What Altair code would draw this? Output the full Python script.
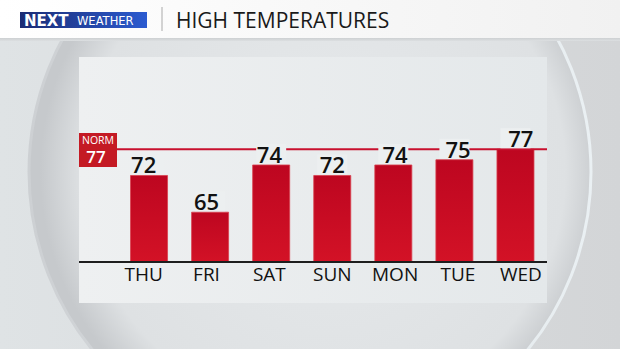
import altair as alt
import pandas as pd

# ---- data ----
days = ["THU", "FRI", "SAT", "SUN", "MON", "TUE", "WED"]
highs = [72, 65, 74, 72, 74, 75, 77]
norm = 77
title_text = "HIGH TEMPERATURES"

# ---- layout ----
Y_MIN, Y_MAX = 55.5, 94.4
Y_RANGE = [262, 58]
X_RANGE = [112.2, 552.3]
FONT = "Open Sans"

df = pd.DataFrame({"day": days, "high": highs})
one = pd.DataFrame({"a": [0]})


def grad(c0, c1, horizontal=False):
    g = {"gradient": "linear", "stops": [{"offset": 0, "color": c0}, {"offset": 1, "color": c1}]}
    if horizontal:
        g.update({"x1": 0, "x2": 1, "y1": 0, "y2": 0})
    else:
        g.update({"x1": 0, "x2": 0, "y1": 0, "y2": 1})
    return g


xs = alt.Scale(domain=days, range=X_RANGE, paddingInner=0.394, paddingOuter=0.3)
ys = alt.Scale(domain=[Y_MIN, Y_MAX], range=Y_RANGE, zero=False, nice=False)
X = alt.X("day:N", scale=xs, axis=None)
Y = alt.Y("high:Q", scale=ys, axis=None)


def yd(v):
    return alt.YDatum(v, scale=ys, axis=None)


def box(x0, x1, y0, y1, fill):
    return alt.Chart(one).mark_rect(fill=fill).encode(
        x=alt.value(x0), x2=alt.value(x1), y=alt.value(y0), y2=alt.value(y1))


bg = box(0, 620, 0, 349, grad("#dfe3e5", "#d3d5d7", True))
circle = alt.Chart(one).mark_point(
    shape="circle", filled=True, size=562 ** 2, opacity=1,
    fill={"gradient": "radial", "x1": 0.55, "y1": 0.5, "r1": 0, "x2": 0.52, "y2": 0.5, "r2": 0.5,
          "stops": [{"offset": 0, "color": "#e7eaec"}, {"offset": 0.86, "color": "#dee1e3"},
                    {"offset": 1, "color": "#c6c9cc"}]},
    stroke=grad("#cdd0d3", "#eaf0f3", True), strokeWidth=3,
).encode(x=alt.value(310), y=alt.value(172))
header = box(0, 620, 0, 38, grad("#ffffff", "#f1f1f1", True))
header_shadow = box(0, 620, 38, 41, grad("#cdd0d2", "#dcdfe1"))
logo = box(20, 147, 12, 28, grad("#1b2c74", "#2b5bd0", True))
logo_next = alt.Chart(one).mark_text(
    text="NEXT", font="DejaVu Sans", fontWeight="bold", fontSize=15, color="white",
    align="left", baseline="alphabetic").encode(x=alt.value(24), y=alt.value(26))
logo_weather = alt.Chart(one).mark_text(
    text="WEATHER", font="DejaVu Sans", fontSize=11.5, color="white",
    align="left", baseline="alphabetic").encode(x=alt.value(77), y=alt.value(25))
divider = alt.Chart(one).mark_rule(color="#b8b8b8", strokeWidth=1.2).encode(
    x=alt.value(162), y=alt.value(7), y2=alt.value(31))
title = alt.Chart(one).mark_text(
    text=title_text, font=FONT, fontSize=21, color="#1a1a1a",
    align="left", baseline="alphabetic").encode(x=alt.value(176), y=alt.value(27.5))
panel = box(79, 547, 57, 303, grad("#eef0f1", "#e4e8ea", True))

bars = alt.Chart(df).mark_bar(
    fill=grad("#bd0620", "#d31226"), stroke="#d8404e", strokeWidth=0.8
).encode(x=X, y=Y, y2=alt.datum(Y_MIN))
baseline = alt.Chart(one).mark_rule(color="#1e1e1e", strokeWidth=2).encode(
    x=alt.value(79), x2=alt.value(547), y=yd(Y_MIN))
norm_line = alt.Chart(one).mark_rule(color="#c8102e", strokeWidth=2).encode(
    x=alt.value(117), x2=alt.value(547), y=yd(norm))
label_bg = alt.Chart(df).mark_rect(
    fill="#eceff0", width=30, yOffset=-1, y2Offset=-21
).encode(x=X, y=Y, y2="high:Q")
labels = alt.Chart(df).mark_text(
    font=FONT, fontSize=22, fontWeight=600, color="#111111", baseline="alphabetic", dy=-2
).encode(x=X, y=Y, text="high:Q")
day_labels = alt.Chart(df).mark_text(
    font=FONT, fontSize=19, fontWeight=500, color="#111111", baseline="alphabetic"
).encode(x=X, y=alt.value(281), text="day:N")
norm_box = box(79, 117, 133, 167, "#c41a24")
norm_word = alt.Chart(one).mark_text(
    text="NORM", font=FONT, fontSize=10.5, color="white", baseline="alphabetic"
).encode(x=alt.value(98), y=alt.value(144))
norm_val = alt.Chart(one).mark_text(
    text=str(norm), font=FONT, fontSize=17, fontWeight=600, color="white", baseline="alphabetic"
).encode(x=alt.value(96), y=alt.value(163))

chart = alt.layer(
    bg, circle, header, header_shadow, logo, logo_next, logo_weather, divider, title,
    panel, bars, baseline, norm_line, label_bg, labels, day_labels,
    norm_box, norm_word, norm_val,
).resolve_scale(
    x="independent", y="independent"
).properties(
    width=620, height=349, padding=0, background="#d8dcde",
    autosize=alt.AutoSizeParams(type="none")
).configure_view(stroke=None)

chart.save("out.html", embed_options={"renderer": "svg", "actions": False})
